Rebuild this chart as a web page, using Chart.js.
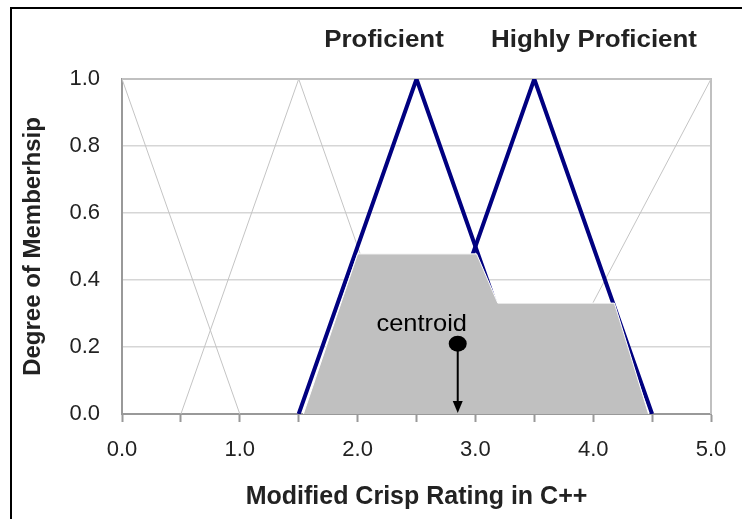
<!DOCTYPE html>
<html>
<head>
<meta charset="utf-8">
<script src="https://cdn.jsdelivr.net/npm/chart.js@4"></script>
<style>
  html, body { margin: 0; padding: 0; background: #fff; }
  #wrap { width: 746px; height: 519px; }
</style>
</head>
<body>
<div id="wrap"><canvas id="fuzzyChart" width="746" height="519"></canvas></div>
<script>
  // membership functions (x = rating, y = degree)
  var lowShoulderX = [0, 1];
  var lowShoulderY = [1, 0];
  var lowX = [0.5, 1.5, 2.5];
  var lowY = [0, 1, 0];
  var highShoulderX = [3.5, 5];
  var highShoulderY = [0, 1];
  var proficientX = [1.5, 2.5, 3.5];
  var proficientY = [0, 1, 0];
  var highlyX = [2.5, 3.5, 4.5];
  var highlyY = [0, 1, 0];
  // clipped aggregate (grey area)
  var areaX = [1.54, 2.0, 3.01, 3.19, 4.18, 4.47];
  var areaY = [0, 0.478, 0.478, 0.331, 0.331, 0];
  // centroid
  var centroidX = [2.85];
  var centroidY = [0.21];
  var xTicks = [0.0, 1.0, 2.0, 3.0, 4.0, 5.0];
  var setLabels = ['Proficient', 'Highly Proficient'];

  function pts(xs, ys) {
    var out = [];
    for (var i = 0; i < xs.length; i++) {
      out.push({ x: xs[i], y: ys[i] });
    }
    return out;
  }

  var font = 'Liberation Sans, Arial, sans-serif';

  function thinGrey(xs, ys) {
    return {
      data: pts(xs, ys),
      showLine: true,
      borderColor: '#c4c4c4',
      borderWidth: 1,
      pointRadius: 0,
      fill: false,
      order: 3
    };
  }

  function navy(xs, ys) {
    return {
      data: pts(xs, ys),
      showLine: true,
      borderColor: '#000080',
      borderWidth: 4,
      borderJoinStyle: 'bevel',
      pointRadius: 0,
      fill: false,
      order: 2
    };
  }

  // text a bit wider than the font, like the original
  function wideText(ctx, txt, x, y, sx) {
    ctx.save();
    ctx.translate(x, y);
    ctx.scale(sx, 1);
    ctx.fillText(txt, 0, 0);
    ctx.restore();
  }

  // frame, plot border, captions and centroid arrow
  var decor = {
    id: 'decor',
    beforeDraw: function(chart) {
      var ctx = chart.ctx;
      ctx.save();
      ctx.fillStyle = '#000';
      ctx.fillRect(10, 7, 732, 2);
      ctx.fillRect(10, 7, 2, 512);
      ctx.restore();
    },
    beforeDatasetsDraw: function(chart) {
      var ctx = chart.ctx;
      var a = chart.chartArea;
      ctx.save();
      ctx.strokeStyle = '#c0c0c0';
      ctx.lineWidth = 2;
      ctx.beginPath();
      ctx.moveTo(a.left, a.top);
      ctx.lineTo(a.right, a.top);
      ctx.lineTo(a.right, a.bottom);
      ctx.stroke();
      ctx.restore();
    },
    afterDatasetsDraw: function(chart) {
      var ctx = chart.ctx;
      var xs = chart.scales.x;
      var ys = chart.scales.y;
      var cx = xs.getPixelForValue(centroidX[0]);
      var cy = ys.getPixelForValue(centroidY[0]);
      var by = ys.getPixelForValue(0) - 1;
      ctx.save();
      ctx.strokeStyle = '#000';
      ctx.fillStyle = '#000';
      ctx.lineWidth = 2;
      ctx.beginPath();
      ctx.moveTo(cx, cy);
      ctx.lineTo(cx, by - 10);
      ctx.stroke();
      ctx.beginPath();
      ctx.moveTo(cx - 5, by - 12);
      ctx.lineTo(cx + 5, by - 12);
      ctx.lineTo(cx, by);
      ctx.closePath();
      ctx.fill();
      ctx.beginPath();
      ctx.ellipse(cx, cy, 9, 8, 0, 0, Math.PI * 2);
      ctx.fill();

      ctx.font = '24px ' + font;
      ctx.textAlign = 'center';
      ctx.textBaseline = 'alphabetic';
      wideText(ctx, 'centroid', cx - 36, cy - 13, 1.06);

      ctx.fillStyle = '#222';
      ctx.font = 'bold 24px ' + font;
      wideText(ctx, setLabels[0], 384, 47, 1.08);
      wideText(ctx, setLabels[1], 594, 47, 1.08);
      ctx.restore();
    }
  };

  var ctxL = document.getElementById('fuzzyChart').getContext('2d');
  var myChart = new Chart(ctxL, {
    type: 'scatter',
    data: {
      datasets: [
        thinGrey(lowShoulderX, lowShoulderY),
        thinGrey(lowX, lowY),
        thinGrey(highShoulderX, highShoulderY),
        navy(proficientX, proficientY),
        navy(highlyX, highlyY),
        {
          data: pts(areaX, areaY),
          showLine: true,
          borderColor: '#ffffff',
          borderWidth: 1,
          backgroundColor: '#c0c0c0',
          pointRadius: 0,
          fill: 'origin',
          order: 1
        }
      ]
    },
    options: {
      responsive: false,
      animation: false,
      events: [],
      layout: { padding: { left: 15, top: 79, right: 35, bottom: 3 } },
      plugins: {
        legend: { display: false },
        tooltip: { enabled: false }
      },
      scales: {
        x: {
          type: 'linear',
          min: 0,
          max: 5,
          afterFit: function(s) { s.height = 102; },
          afterBuildTicks: function(s) {
            var t = [];
            for (var i = 0; i <= 10; i++) t.push({ value: i * 0.5 });
            s.ticks = t;
          },
          ticks: {
            autoSkip: false,
            maxRotation: 0,
            padding: 15,
            color: '#222',
            font: { family: font, size: 22 },
            callback: function(v) {
              return xTicks.indexOf(v) >= 0 ? v.toFixed(1) : '';
            }
          },
          grid: {
            drawOnChartArea: false,
            drawTicks: true,
            tickLength: 8,
            tickColor: '#999',
            tickWidth: 2
          },
          border: { color: '#999', width: 2 },
          title: {
            display: true,
            text: 'Modified Crisp Rating in C++',
            color: '#222',
            font: { family: font, size: 25, weight: 'bold' }
          }
        },
        y: {
          min: 0,
          max: 1,
          afterFit: function(s) { s.width = 107; },
          ticks: {
            stepSize: 0.2,
            padding: 22,
            color: '#222',
            font: { family: font, size: 22 },
            callback: function(v) { return v.toFixed(1); }
          },
          grid: {
            color: '#d6d6d6',
            lineWidth: 1.5,
            drawTicks: false
          },
          border: { color: '#999', width: 2 },
          title: {
            display: true,
            text: 'Degree of Memberhsip',
            color: '#222',
            font: { family: font, size: 24, weight: 'bold' }
          }
        }
      }
    },
    plugins: [decor]
  });
</script>
</body>
</html>
